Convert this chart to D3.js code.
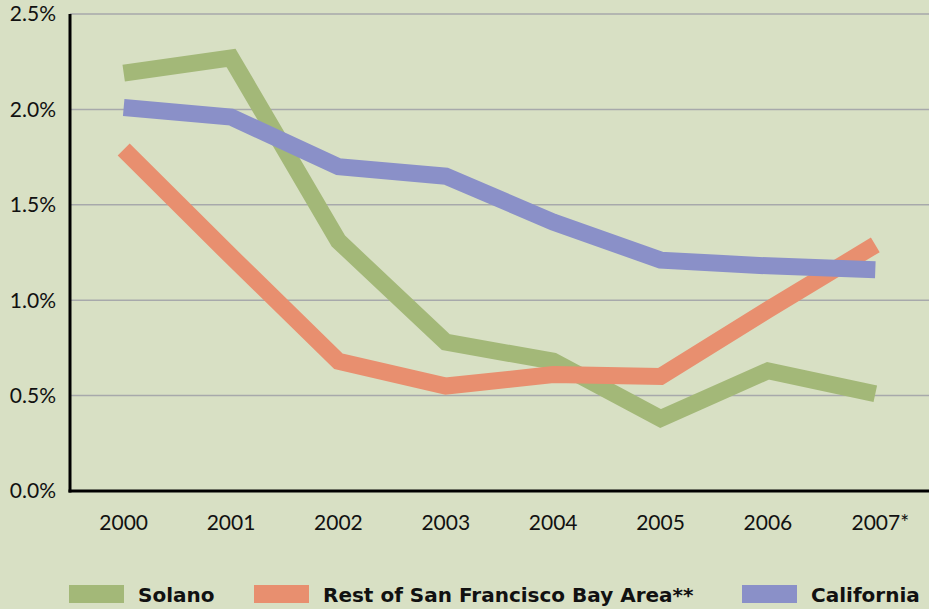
<!DOCTYPE html>
<html>
<head>
<meta charset="utf-8">
<script src="https://cdn.jsdelivr.net/npm/d3@7"></script>
<style>
  html, body { margin: 0; padding: 0; background: #d8e0c4; }
  svg { display: block; }
  .tick-label { font-family: Lato, "Open Sans", sans-serif; font-size: 21px; fill: #111; }
  .legend-label { font-family: "DejaVu Sans", sans-serif; font-size: 20px; font-weight: bold; fill: #111; }
</style>
</head>
<body>
<div id="chart"></div>
<script>
// chart data
var years = ['2000', '2001', '2002', '2003', '2004', '2005', '2006', '2007*'];
var solano = [2.19, 2.27, 1.31, 0.78, 0.68, 0.38, 0.63, 0.51];
var restOfBayArea = [1.79, 1.23, 0.68, 0.55, 0.61, 0.60, 0.95, 1.29];
var california = [2.01, 1.96, 1.70, 1.65, 1.41, 1.21, 1.18, 1.16];
var yTicks = [0, 0.5, 1.0, 1.5, 2.0, 2.5];
var seriesNames = ['Solano', 'Rest of San Francisco Bay Area**', 'California'];

var width = 929, height = 609;
var margin = {top: 14, right: 0, bottom: 118, left: 70};
var colors = ['#a3b878', '#e88f6f', '#8a90c8'];

var svg = d3.select('#chart').append('svg')
    .attr('width', width)
    .attr('height', height);

svg.append('rect')
    .attr('width', width)
    .attr('height', height)
    .attr('fill', '#d8e0c4');

var xScale = d3.scalePoint()
    .domain(years)
    .range([margin.left, width - margin.right])
    .padding(0.5);

var yScale = d3.scaleLinear()
    .domain([0, 2.5])
    .range([height - margin.bottom, margin.top]);

// gridlines
svg.append('g')
    .selectAll('line')
    .data(yTicks.filter(function(d) { return d > 0; }))
    .enter()
    .append('line')
    .attr('x1', margin.left)
    .attr('x2', width - margin.right)
    .attr('y1', function(d) { return yScale(d); })
    .attr('y2', function(d) { return yScale(d); })
    .attr('stroke', '#a7a9ab')
    .attr('stroke-width', 1.5);

// y tick labels
svg.append('g')
    .selectAll('text')
    .data(yTicks)
    .enter()
    .append('text')
    .attr('class', 'tick-label')
    .attr('x', 56)
    .attr('y', function(d) { return yScale(d); })
    .attr('dy', '0.35em')
    .attr('text-anchor', 'end')
    .text(function(d) { return d.toFixed(1) + '%'; });

// x tick labels
svg.append('g')
    .selectAll('text')
    .data(years)
    .enter()
    .append('text')
    .attr('class', 'tick-label')
    .attr('x', function(d) { return xScale(d) + (d.indexOf('*') > -1 ? 5 : 0); })
    .attr('y', 530)
    .attr('text-anchor', 'middle')
    .text(function(d) { return d; });

// lines
var seriesData = [solano, restOfBayArea, california];
var line = d3.line()
    .x(function(d, i) { return xScale(years[i]); })
    .y(function(d) { return yScale(d); });

svg.append('g')
    .selectAll('path')
    .data(seriesData)
    .enter()
    .append('path')
    .attr('d', line)
    .attr('fill', 'none')
    .attr('stroke', function(d, i) { return colors[i]; })
    .attr('stroke-width', 17)
    .attr('stroke-linejoin', 'miter')
    .attr('stroke-linecap', 'butt');

// axes
svg.append('line')
    .attr('x1', margin.left)
    .attr('x2', margin.left)
    .attr('y1', margin.top)
    .attr('y2', yScale(0) + 1.5)
    .attr('stroke', '#000')
    .attr('stroke-width', 3);

svg.append('line')
    .attr('x1', margin.left - 1.5)
    .attr('x2', width)
    .attr('y1', yScale(0))
    .attr('y2', yScale(0))
    .attr('stroke', '#000')
    .attr('stroke-width', 3);

// legend
var legendX = [69, 254, 742];
var legend = svg.append('g')
    .selectAll('g')
    .data(seriesNames)
    .enter()
    .append('g')
    .attr('transform', function(d, i) { return 'translate(' + legendX[i] + ',585)'; });

legend.append('rect')
    .attr('width', 55)
    .attr('height', 18)
    .attr('fill', function(d, i) { return colors[i]; });

legend.append('text')
    .attr('class', 'legend-label')
    .attr('x', 69)
    .attr('y', 17)
    .text(function(d) { return d; });
</script>
</body>
</html>
